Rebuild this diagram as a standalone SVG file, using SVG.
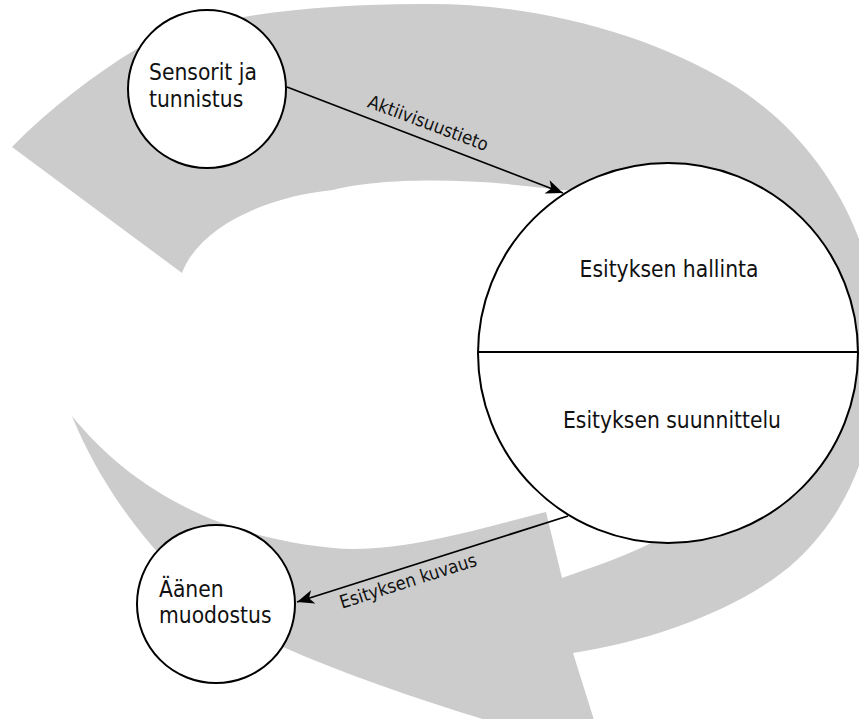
<svg xmlns="http://www.w3.org/2000/svg" width="859" height="719" viewBox="0 0 859 719">
  <style>
    .band { fill: #cccccc; stroke: none; }
    .node { fill: #ffffff; stroke: #000000; stroke-width: 2; }
    .divider { stroke: #000000; stroke-width: 2; fill: none; }
    .txt { font-family: "DejaVu Sans Condensed", "DejaVu Sans", sans-serif; font-stretch: condensed; font-size: 22.6px; fill: #111111; }
    .lbl { font-family: "DejaVu Sans Condensed", "DejaVu Sans", sans-serif; font-stretch: condensed; font-size: 18.4px; fill: #111111; }
    .edge { stroke: #000000; stroke-width: 1.8; fill: none; marker-end: url(#arrow); }
  </style>
  <defs>
    <marker id="arrow" markerUnits="userSpaceOnUse" viewBox="-18 -9 19 18" markerWidth="19" markerHeight="18" refX="0" refY="0" orient="auto">
      <path d="M0,0 L-17,-7 L-12.5,0 L-17,7 Z" fill="#000000"/>
    </marker>
  </defs>

  <!-- large curved cycle arrow behind the nodes -->
  <g id="flow-band">
    <path class="band" d="M12,147
      C50,108 95,74 138,48
      C190,17 320,3 430,4
      C540,4 650,35 730,83
      C810,131 875,225 878,335
      C880,440 850,510 797,560
      C750,604 660,640 573,653
      L605,755
      C500,725 380,690 283,647
      C190,606 110,510 72,416
      C120,475 200,535 333,548
      C400,554 480,528 546,512
      L562,578
      C590,568 620,558 643,547
      C740,500 800,420 790,330
      C780,240 680,190 557,190
      C470,177 380,178 333,190
      C270,196 200,225 182,273 Z"/>
  </g>

  <!-- connectors -->
  <g id="connectors">
    <line class="edge" x1="287" y1="87" x2="563" y2="193"/>
    <text class="lbl" text-anchor="middle" transform="translate(426,129) rotate(20.5)">Aktiivisuustieto</text>
    <line class="edge" x1="568" y1="516" x2="297" y2="602"/>
    <text class="lbl" text-anchor="middle" transform="translate(410,587) rotate(-17.7)">Esityksen kuvaus</text>
  </g>

  <g id="node-sensorit">
    <circle class="node" cx="207" cy="89" r="79"/>
    <text class="txt" x="149" y="80">Sensorit ja</text>
    <text class="txt" x="149" y="107">tunnistus</text>
  </g>

  <g id="node-esitys">
    <circle class="node" cx="668" cy="353" r="190"/>
    <line class="divider" x1="478" y1="352" x2="858" y2="352"/>
    <text class="txt" x="669" y="277" text-anchor="middle">Esityksen hallinta</text>
    <text class="txt" x="672" y="428" text-anchor="middle">Esityksen suunnittelu</text>
  </g>

  <g id="node-aani">
    <circle class="node" cx="216" cy="604" r="79"/>
    <text class="txt" x="159" y="597">Äänen</text>
    <text class="txt" x="159" y="623">muodostus</text>
  </g>
</svg>
